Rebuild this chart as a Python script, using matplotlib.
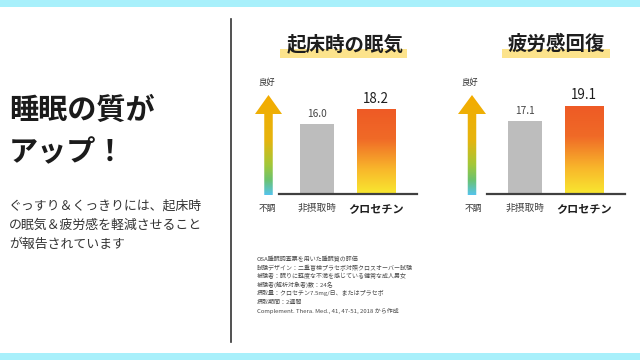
import numpy as np
import matplotlib
matplotlib.use("Agg")
import matplotlib.pyplot as plt
from matplotlib.colors import LinearSegmentedColormap
from matplotlib.patches import Polygon, Rectangle

plt.rcParams['font.family'] = ['Noto Sans CJK JP', 'DejaVu Sans']

# ---------------- data ----------------
chart_titles = ["起床時の眠気", "疲労感回復"]
categories = ["非摂取時", "クロセチン"]
values_sleepiness = [16.0, 18.2]
values_fatigue = [17.1, 19.1]
value_labels_sleepiness = ["16.0", "18.2"]
value_labels_fatigue = ["17.1", "19.1"]
axis_top_label = "良好"
axis_bottom_label = "不調"
headline = ["睡眠の質が", "アップ！"]
body_lines = ["ぐっすり＆くっきりには、起床時",
              "の眠気＆疲労感を軽減させること",
              "が報告されています"]
footnote_lines = [
    "OSA睡眠調査票を用いた睡眠質の評価",
    "試験デザイン：二重盲検プラセボ対照クロスオーバー試験",
    "被験者：眠りに軽度な不満を感じている健常な成人男女",
    "被験者(解析対象者)数：24名",
    "摂取量：クロセチン7.5mg/日、またはプラセボ",
    "摂取期間：2週間",
    "Complement. Thera. Med., 41, 47-51, 2018 から作成",
]

# ---------------- style ----------------
W, H = 640, 360
fig = plt.figure(figsize=(6.4, 3.6), dpi=100)
fig.patch.set_facecolor("white")

bg = fig.add_axes([0, 0, 1, 1])
bg.set_xlim(0, W)
bg.set_ylim(H, 0)
bg.axis("off")

band_color = "#A8F0FB"
bg.add_patch(Rectangle((0, 0), W, 6.5, color=band_color, lw=0))
bg.add_patch(Rectangle((0, 353), W, 7, color=band_color, lw=0))
bg.plot([231, 231], [19, 342], color="#333333", lw=1.2)

# left text
for i, line in enumerate(headline):
    bg.text(9, [110, 152][i], line, fontsize=21, fontweight="bold",
            color="#1b1b1b", va="center", ha="left")
for i, line in enumerate(body_lines):
    bg.text(9, 206 + 19.2 * i, line, fontsize=9.3, color="#333333",
            va="center", ha="left")

# footnote
foot_y = [259, 268, 276, 284.5, 293, 302, 311]
for y, line in zip(foot_y, footnote_lines):
    bg.text(257, y, line, fontsize=4.3, color="#4a4a4a", va="center", ha="left")

bar_cmap = LinearSegmentedColormap.from_list(
    "bar", [(0.0, "#F9E830"), (0.3, "#F8B52B"), (0.65, "#F06A27"), (1.0, "#EE5A25")])
arrow_cmap = LinearSegmentedColormap.from_list(
    "arr", [(0.0, "#F4AC00"), (0.45, "#E6B40E"), (0.7, "#A2C83A"),
            (0.85, "#6CC26F"), (1.0, "#55C4EC")])

charts = [
    dict(title=chart_titles[0], vals=values_sleepiness, labels=value_labels_sleepiness,
         ax_x=(279, 417), ylo=5.2, ppu=6.5, title_x=345, hl=(280, 407),
         arrow_cx=268.5, head_w=27, shaft_w=8.5, top_lbl_x=267, bot_lbl_x=267.5),
    dict(title=chart_titles[1], vals=values_fatigue, labels=value_labels_fatigue,
         ax_x=(487, 625), ylo=7.56, ppu=7.65, title_x=556, hl=(502, 610),
         arrow_cx=472, head_w=28, shaft_w=8.5, top_lbl_x=470, bot_lbl_x=473),
]

base_y = 193.8
ax_top_y = 40

for c in charts:
    # title with highlight
    hx0, hx1 = c["hl"]
    bg.add_patch(Rectangle((hx0, 49), hx1 - hx0, 9, color="#FCE38C", lw=0, zorder=1))
    bg.text(c["title_x"], 44, c["title"], fontsize=14, fontweight="bold",
            color="#1e1e1e", ha="center", va="center", zorder=2)

    # gradient arrow
    cx = c["arrow_cx"]
    hw, sw = c["head_w"] / 2, c["shaft_w"] / 2
    top, head_base, bottom = 95, 114, 195
    verts = [(cx, top), (cx + hw, head_base), (cx + sw, head_base), (cx + sw, bottom),
             (cx - sw, bottom), (cx - sw, head_base), (cx - hw, head_base)]
    poly = Polygon(verts, closed=True, facecolor="none", edgecolor="none")
    bg.add_patch(poly)
    grad = np.linspace(0, 1, 256).reshape(-1, 1)
    im = bg.imshow(grad, cmap=arrow_cmap, aspect="auto", origin="upper",
                   extent=(cx - hw, cx + hw, bottom, top), zorder=2)
    im.set_clip_path(poly)
    bg.set_xlim(0, W)
    bg.set_ylim(H, 0)
    bg.text(c["top_lbl_x"], 82, axis_top_label, fontsize=6, color="#333333",
            ha="center", va="center")
    bg.text(c["bot_lbl_x"], 208.5, axis_bottom_label, fontsize=6.3, color="#333333",
            ha="center", va="center")

    # bar axes
    x0, x1 = c["ax_x"]
    ax = fig.add_axes([x0 / W, 1 - base_y / H, (x1 - x0) / W, (base_y - ax_top_y) / H])
    ax.patch.set_alpha(0)
    ylo = c["ylo"]
    ax.set_ylim(ylo, ylo + (base_y - ax_top_y) / c["ppu"])
    ax.set_xlim(-0.645, 1.695)
    pos = np.arange(len(categories))
    bars = ax.bar(pos, [v - ylo for v in c["vals"]], bottom=ylo,
                  width=[0.58, 0.645], color=["#BDBDBD", "none"], zorder=2)
    ob = bars[1]
    g = np.linspace(0, 1, 256).reshape(-1, 1)
    bim = ax.imshow(g, cmap=bar_cmap, aspect="auto", origin="lower",
                    extent=(ob.get_x(), ob.get_x() + ob.get_width(),
                            ob.get_y(), ob.get_y() + ob.get_height()), zorder=2)
    bim.set_clip_path(ob)
    ax.set_xlim(-0.645, 1.695)
    ax.set_ylim(ylo, ylo + (base_y - ax_top_y) / c["ppu"])

    for i, (v, lbl) in enumerate(zip(c["vals"], c["labels"])):
        if i == 0:
            ax.annotate(lbl, (pos[i], v), xytext=(0, 7), textcoords="offset points",
                        ha="center", va="center", fontsize=7.3, color="#444444")
        else:
            ax.annotate(lbl, (pos[i], v), xytext=(0, 7.3), textcoords="offset points",
                        ha="center", va="center", fontsize=9.6, color="#1e1e1e")
    for i, cat in enumerate(categories):
        ax.annotate(cat, (pos[i], ylo), xytext=(0, -10.4), textcoords="offset points",
                    ha="center", va="center",
                    fontsize=7 if i == 0 else 8,
                    fontweight="normal" if i == 0 else "bold",
                    color="#444444" if i == 0 else "#1e1e1e", annotation_clip=False)

    for s in ["top", "left", "right"]:
        ax.spines[s].set_visible(False)
    ax.spines["bottom"].set_color("#404040")
    ax.spines["bottom"].set_linewidth(1.6)
    ax.set_xticks([])
    ax.set_yticks([])

fig.savefig("out.png", dpi=100, facecolor="white")
